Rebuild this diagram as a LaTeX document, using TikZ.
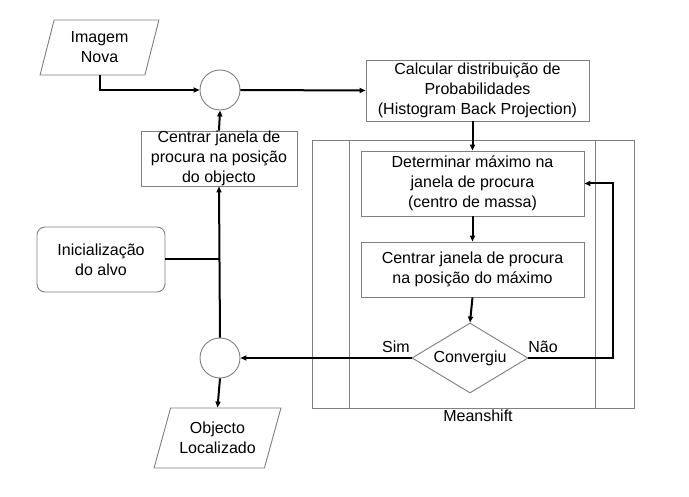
\documentclass[tikz,border=0pt]{standalone}
\usepackage{fontspec}
\setmainfont{Liberation Sans}
\usepackage{xcolor}
\definecolor{edgegray}{HTML}{7F7F7F}
\usepackage{tikz}
\usetikzlibrary{arrows.meta, positioning, calc, shapes.geometric}

\begin{document}
\begin{tikzpicture}[
  x=1pt, y=-1pt,
  font=\fontsize{16}{20}\selectfont,
  box/.style={
    draw=edgegray, fill=white, line width=0.9pt, align=center,
    inner sep=0pt
  },
  proc/.style={box, rectangle},
  startbox/.style={box, rectangle, rounded corners=8pt},
  iobox/.style={box, trapezium, trapezium stretches=true},
  junction/.style={box, circle, minimum size=40pt},
  decide/.style={box, diamond},
  arr/.style={-{Triangle[length=6pt,width=5pt]}, line width=2pt},
  plainline/.style={line width=2pt}
]
  \useasboundingbox (0,0) rectangle (689,497);

  % left column
  \node[iobox, trapezium left angle=74, trapezium right angle=106,
    minimum width=119pt, minimum height=55pt] (img) at (99.5,47.5) {Imagem\\Nova};
  \node[junction] (c1) at (220,90) {};
  \node[proc, minimum width=156pt, minimum height=55pt] (centro) at (219,158.5)
    {Centrar janela de\\procura na posição\\do objecto};
  \node[startbox, minimum width=128pt, minimum height=65pt] (init) at (101,259.5)
    {Inicialização\\do alvo};
  \node[junction] (c2) at (220,358) {};
  \node[iobox, trapezium left angle=67, trapezium right angle=113,
    minimum width=127pt, minimum height=60pt] (obj) at (217.5,438) {Objecto\\Localizado};

  % meanshift block
  \node[proc, minimum width=322pt, minimum height=268pt] (ms) at (473,274) {};
  \draw[edgegray, line width=0.9pt] ($(ms.north west)+(38,0)$) -- ($(ms.south west)+(38,0)$);
  \draw[edgegray, line width=0.9pt] ($(ms.north east)+(-39,0)$) -- ($(ms.south east)+(-39,0)$);
  \node (mslab) at (478,416) {Meanshift};

  % right column
  \node[proc, minimum width=223pt, minimum height=61pt] (calc) at (477.5,90.5)
    {Calcular distribuição de\\Probabilidades\\(Histogram Back Projection)};
  \node[proc, minimum width=223pt, minimum height=65pt] (det) at (472.5,183.5)
    {Determinar máximo na\\janela de procura\\(centro de massa)};
  \node[proc, minimum width=223pt, minimum height=55pt] (cmax) at (472.5,269.5)
    {Centrar janela de procura\\na posição do máximo};
  \node[decide, minimum width=116pt, minimum height=70pt, aspect=1.66] (conv) at (470,358)
    {Convergiu};
  \node (sim) at (396,347) {Sim};
  \node (nao) at (543,347) {Não};

  % connectors
  \draw[arr] (img.south) |- (c1.west);
  \draw[arr] (c1.east) -- (calc.west);
  \draw[arr] (det.north |- calc.south) -- (det.north);
  \draw[arr] (det.south) -- (cmax.north);
  \draw[arr] (cmax.south) -- (conv.north);
  \draw[arr] (conv.east) -- ++(85,0) |- (det.east);
  \draw[arr] (conv.west) -- (c2.east);
  \draw[arr] (c2.north) -- (centro.south);
  \draw[plainline] (init.east) -- (init.east -| c2.north);
  \draw[arr] (centro.north) -- (c1.south);
  \draw[arr] (c2.south) -- (obj.north);
\end{tikzpicture}
\end{document}
